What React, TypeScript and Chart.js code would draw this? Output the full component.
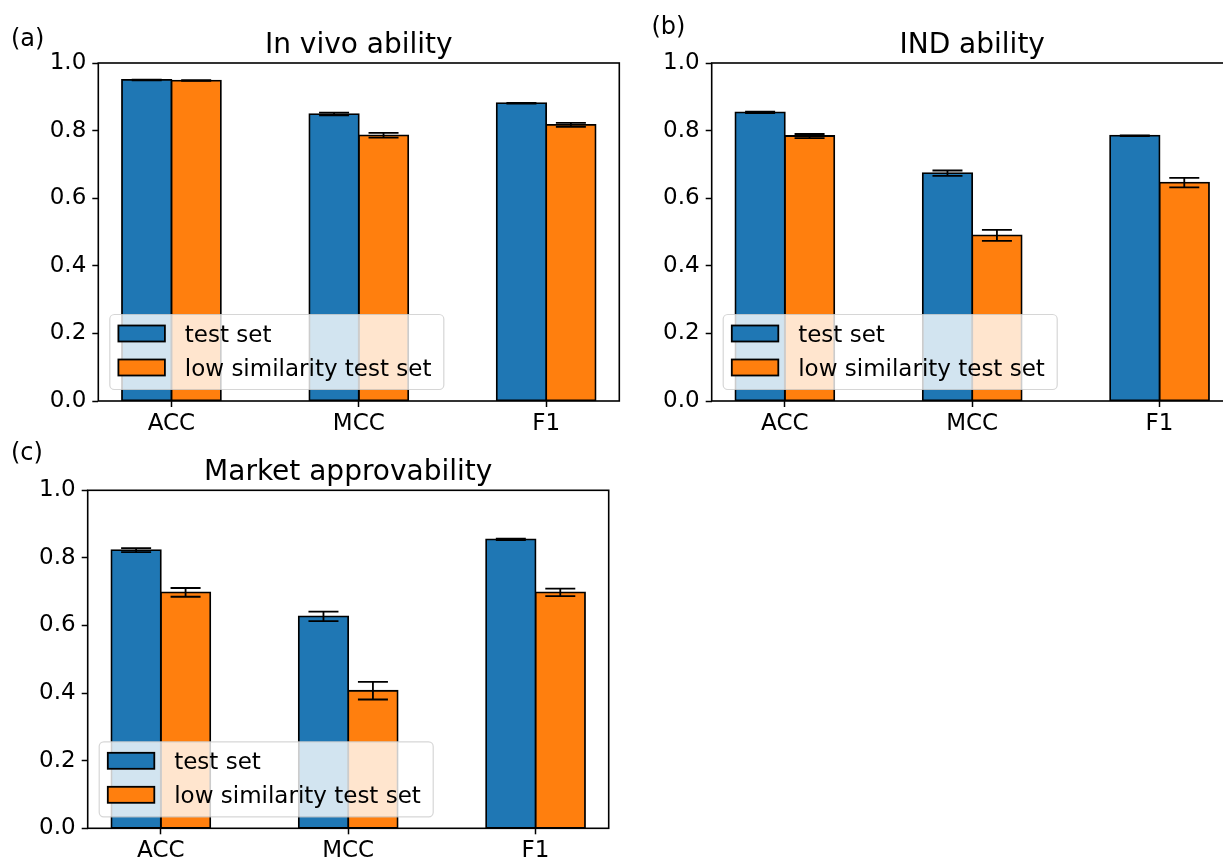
import React, { useEffect, useRef } from 'react';
import { Chart, registerables } from 'chart.js';

Chart.register(...registerables);

// ---------- data ----------
const categories = ['ACC', 'MCC', 'F1'];
const seriesNames = ['test set', 'low similarity test set'];
const yTickValues = [0, 0.2, 0.4, 0.6, 0.8, 1.0];

const inVivoTest = [0.950, 0.849, 0.881];
const inVivoTestErr = [0.001, 0.004, 0.001];
const inVivoLow = [0.948, 0.786, 0.817];
const inVivoLowErr = [0.001, 0.007, 0.006];

const indTest = [0.854, 0.674, 0.785];
const indTestErr = [0.002, 0.008, 0.001];
const indLow = [0.784, 0.490, 0.646];
const indLowErr = [0.006, 0.016, 0.014];

const marketTest = [0.823, 0.627, 0.855];
const marketTestErr = [0.006, 0.014, 0.002];
const marketLow = [0.698, 0.407, 0.698];
const marketLowErr = [0.013, 0.026, 0.011];

// ---------- style ----------
const COLORS = ['#1f77b4', '#ff7f0e'];
const FONT = "'DejaVu Sans', 'Liberation Sans', sans-serif";
const BAR_W = 0.264; // bar width in category units
const MARGIN = 0.05 * (categories.length - 1 + 2 * BAR_W);

type Panel = {
  tag: string;
  title: string;
  values: number[][];
  errs: number[][];
  canvas: { left: number; top: number; width: number; height: number };
  area: { left: number; right: number; top: number; bottom: number };
  tagPos: { x: number; y: number };
};

const panels: Panel[] = [
  {
    tag: '(a)',
    title: 'In vivo ability',
    values: [inVivoTest, inVivoLow],
    errs: [inVivoTestErr, inVivoLowErr],
    canvas: { left: 0, top: 0, width: 640, height: 440 },
    area: { left: 98.3, right: 619.3, top: 63, bottom: 401 },
    tagPos: { x: 11, y: 46 },
  },
  {
    tag: '(b)',
    title: 'IND ability',
    values: [indTest, indLow],
    errs: [indTestErr, indLowErr],
    canvas: { left: 620, top: 0, width: 640, height: 440 },
    area: { left: 711.7, right: 1232.7, top: 63, bottom: 401 },
    tagPos: { x: 651.5, y: 34 },
  },
  {
    tag: '(c)',
    title: 'Market approvability',
    values: [marketTest, marketLow],
    errs: [marketTestErr, marketLowErr],
    canvas: { left: 0, top: 430, width: 640, height: 430 },
    area: { left: 87.7, right: 608.7, top: 490.3, bottom: 828.3 },
    tagPos: { x: 11, y: 460 },
  },
];

function makePlugin(p: Panel) {
  return {
    id: 'panelDecor',
    afterDatasetsDraw(chart: any) {
      const ctx: CanvasRenderingContext2D = chart.ctx;
      const { left, right, top, bottom } = chart.chartArea;
      const yS = chart.scales.y;
      const cx = p.canvas.left;
      const cy = p.canvas.top;

      // error bars
      chart.data.datasets.forEach((ds: any, di: number) => {
        const meta = chart.getDatasetMeta(di);
        meta.data.forEach((bar: any, i: number) => {
          const v = ds.data[i].y;
          const e = p.errs[di][i];
          const x = bar.x;
          const y1 = yS.getPixelForValue(v - e);
          const y2 = yS.getPixelForValue(v + e);
          ctx.save();
          ctx.strokeStyle = '#000';
          ctx.lineWidth = 1.8;
          ctx.beginPath();
          ctx.moveTo(x, y1);
          ctx.lineTo(x, y2);
          ctx.moveTo(x - 15, y1);
          ctx.lineTo(x + 15, y1);
          ctx.moveTo(x - 15, y2);
          ctx.lineTo(x + 15, y2);
          ctx.stroke();
          ctx.restore();
        });
      });

      // spines
      ctx.save();
      ctx.strokeStyle = '#000';
      ctx.lineWidth = 1.6;
      ctx.strokeRect(left, top, right - left, bottom - top);
      ctx.restore();

      // legend
      const bx = left + 11.5;
      const bh = 75;
      const by = bottom - 11.5 - bh;
      const bw = 334;
      ctx.save();
      ctx.beginPath();
      const r = 4.6;
      ctx.moveTo(bx + r, by);
      ctx.lineTo(bx + bw - r, by);
      ctx.arcTo(bx + bw, by, bx + bw, by + r, r);
      ctx.lineTo(bx + bw, by + bh - r);
      ctx.arcTo(bx + bw, by + bh, bx + bw - r, by + bh, r);
      ctx.lineTo(bx + r, by + bh);
      ctx.arcTo(bx, by + bh, bx, by + bh - r, r);
      ctx.lineTo(bx, by + r);
      ctx.arcTo(bx, by, bx + r, by, r);
      ctx.closePath();
      ctx.fillStyle = 'rgba(255,255,255,0.8)';
      ctx.fill();
      ctx.strokeStyle = 'rgba(204,204,204,0.8)';
      ctx.lineWidth = 1.2;
      ctx.stroke();
      seriesNames.forEach((name, i) => {
        const sy = by + 11 + i * 34;
        ctx.fillStyle = COLORS[i];
        ctx.fillRect(bx + 8.6, sy, 46.5, 16);
        ctx.strokeStyle = '#000';
        ctx.lineWidth = 1.8;
        ctx.strokeRect(bx + 8.6, sy, 46.5, 16);
        ctx.fillStyle = '#000';
        ctx.font = `23px ${FONT}`;
        ctx.textAlign = 'left';
        ctx.textBaseline = 'alphabetic';
        ctx.fillText(name, bx + 75, sy + 16);
      });
      ctx.restore();

      // title
      ctx.save();
      ctx.fillStyle = '#000';
      ctx.font = `28px ${FONT}`;
      ctx.textAlign = 'center';
      ctx.textBaseline = 'alphabetic';
      ctx.fillText(p.title, (left + right) / 2, top - 10);
      // panel tag
      ctx.font = `24px ${FONT}`;
      ctx.textAlign = 'left';
      ctx.fillText(p.tag, p.tagPos.x - cx, p.tagPos.y - cy);
      ctx.restore();
    },
  };
}

function PanelChart({ p }: { p: Panel }) {
  const ref = useRef<HTMLCanvasElement | null>(null);
  useEffect(() => {
    if (!ref.current) return;
    const yAxisW = p.area.left - p.canvas.left;
    const xAxisH = p.canvas.top + p.canvas.height - p.area.bottom;
    const chart = new Chart(ref.current, {
      type: 'bar',
      data: {
        datasets: seriesNames.map((name, di) => ({
          label: name,
          data: categories.map((_, i) => ({ x: i, y: p.values[di][i] })),
          backgroundColor: COLORS[di],
          borderColor: '#000',
          borderWidth: 1.8,
          inflateAmount: 0.9,
          borderSkipped: false,
          categoryPercentage: 2 * BAR_W,
          barPercentage: 1,
        })),
      },
      options: {
        animation: false,
        responsive: false,
        maintainAspectRatio: false,
        devicePixelRatio: 1,
        layout: {
          padding: {
            left: 0,
            top: p.area.top - p.canvas.top,
            right: p.canvas.left + p.canvas.width - p.area.right,
            bottom: 0,
          },
        },
        plugins: {
          legend: { display: false },
          title: { display: false },
          tooltip: { enabled: false },
        },
        scales: {
          x: {
            type: 'linear',
            min: -BAR_W - MARGIN,
            max: categories.length - 1 + BAR_W + MARGIN,
            offset: false,
            grid: {
              display: true,
              drawOnChartArea: false,
              drawTicks: true,
              tickLength: 6,
              tickWidth: 1.5,
              tickColor: '#000',
              offset: false,
            },
            border: { display: false },
            ticks: {
              autoSkip: false,
              maxRotation: 0,
              padding: 3,
              color: '#000',
              font: { family: FONT, size: 23 },
              callback: (v: any) => categories[v] ?? '',
            },
            afterBuildTicks: (scale: any) => {
              scale.ticks = categories.map((_, i) => ({ value: i }));
            },
            afterFit: (scale: any) => {
              scale.height = xAxisH;
            },
          },
          y: {
            type: 'linear',
            min: 0,
            max: 1,
            grid: {
              display: true,
              drawOnChartArea: false,
              drawTicks: true,
              tickLength: 6,
              tickWidth: 1.5,
              tickColor: '#000',
            },
            border: { display: false },
            ticks: {
              padding: 6,
              color: '#000',
              font: { family: FONT, size: 23 },
              callback: (v: any) => Number(v).toFixed(1),
            },
            afterBuildTicks: (scale: any) => {
              scale.ticks = yTickValues.map((v) => ({ value: v }));
            },
            afterFit: (scale: any) => {
              scale.width = yAxisW;
            },
          },
        },
      },
      plugins: [makePlugin(p)],
    } as any);
    return () => chart.destroy();
  }, [p]);
  return (
    <canvas
      ref={ref}
      width={p.canvas.width}
      height={p.canvas.height}
      style={{
        position: 'absolute',
        left: p.canvas.left,
        top: p.canvas.top,
        width: p.canvas.width,
        height: p.canvas.height,
      }}
    />
  );
}

export default function App() {
  return (
    <div
      style={{
        position: 'absolute',
        left: 0,
        top: 0,
        width: 1223,
        height: 860,
        overflow: 'hidden',
        background: '#fff',
      }}
    >
      {panels.map((p) => (
        <PanelChart key={p.tag} p={p} />
      ))}
    </div>
  );
}
